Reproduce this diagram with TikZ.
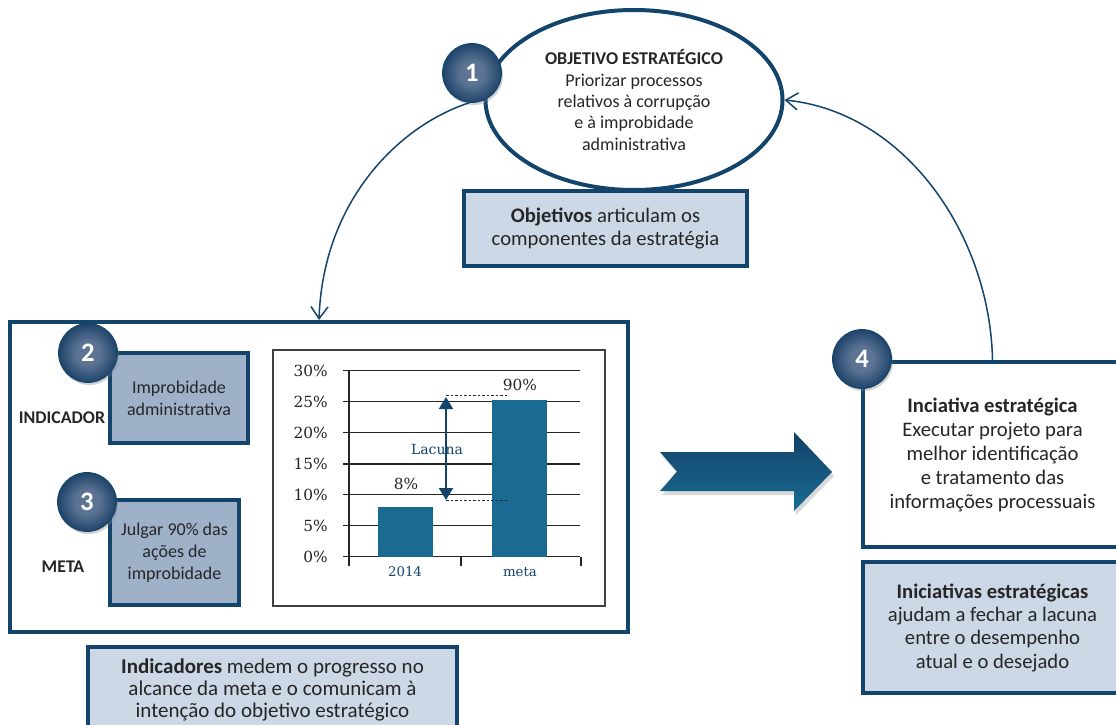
\documentclass[tikz,border=0pt]{standalone}
\usepackage{fontspec}
\setmainfont{Carlito}
\newfontfamily\chartfont{DejaVu Serif}
\usetikzlibrary{shapes.geometric,shadows,arrows.meta}

% one drawing unit = one pixel of the finished picture
\newlength\pxu
\setlength\pxu{0.75pt}

\definecolor{navy}{RGB}{18,68,108}
\definecolor{paleblue}{RGB}{204,216,230}
\definecolor{midblue}{RGB}{158,177,201}
\definecolor{ballin}{RGB}{92,115,147}
\definecolor{ballout}{RGB}{30,68,106}
\definecolor{barblue}{RGB}{26,106,145}
\definecolor{inkgray}{RGB}{38,38,38}
\definecolor{arrowtop}{RGB}{20,64,102}
\definecolor{arrowmid}{RGB}{88,108,140}
\definecolor{arrowbot}{RGB}{24,108,148}

\pgfdeclareradialshading{ball}{\pgfpoint{0bp}{0bp}}{%
  color(0bp)=(ballin); color(10bp)=(ballin); color(25bp)=(ballout); color(50bp)=(ballout)}

\tikzset{
  numball/.style={circle, minimum size=59\pxu, inner sep=0pt, shading=ball,
    draw=navy, line width=0.8\pxu, text=white,
    font=\fontsize{20}{20}\selectfont\bfseries,
    drop shadow={shadow xshift=1.5\pxu, shadow yshift=-2.5\pxu, opacity=0.35}},
  framebox/.style={draw=navy, line width=4\pxu, inner sep=0pt, align=center,
    text=inkgray},
  notebox/.style={framebox, fill=paleblue, font=\fontsize{15.5}{17.5}\selectfont},
  smallbox/.style={framebox, fill=midblue, font=\fontsize{13.5}{16.5}\selectfont},
  whitebox/.style={framebox, fill=white},
  sidelabel/.style={text=inkgray, font=\fontsize{13.4}{15}\selectfont\bfseries},
  chartlabel/.style={text=inkgray, font=\chartfont\fontsize{11.5}{13}\selectfont, inner sep=0pt},
  catlabel/.style={text=navy, font=\chartfont\fontsize{10}{12}\selectfont, inner sep=0pt},
  grid/.style={draw=black!85, line width=1.2\pxu},
  conn/.style={draw=navy, line width=1.5\pxu, -{Straight Barb[length=9pt,width=12.75pt]}},
  gaparrow/.style={draw=navy, line width=1.8\pxu,
    {Triangle[length=9pt,width=10.5pt]}-{Triangle[length=9pt,width=10.5pt]}},
  guide/.style={draw=black!85, line width=1\pxu, dash pattern=on 2.5\pxu off 2\pxu}
}

\begin{document}
\begin{tikzpicture}[x=0.75pt,y=-0.75pt]
\useasboundingbox (0,0) rectangle (1116,724);
\clip (0,0) rectangle (1116,724);

% strategic objective
\node[ellipse, draw=navy, line width=4\pxu, fill=white, minimum width=297\pxu,
  minimum height=180\pxu, inner sep=0pt, align=center, text=inkgray,
  font=\fontsize{13.5}{16}\selectfont] (obj) at (634,100)
  {\textbf{OBJETIVO ESTRATÉGICO}\\Priorizar processos\\relativos à corrupção\\e à improbidade\\administrativa};
\node[notebox, minimum width=283\pxu, minimum height=75\pxu] (objnote) at (605.5,228.5)
  {\textbf{Objetivos} articulam os\\componentes da estratégia};

% indicator and target panel
\node[whitebox, minimum width=618\pxu, minimum height=310\pxu] (panel) at (319,477) {};
\node[smallbox, minimum width=138\pxu, minimum height=90\pxu] (indbox) at (179,398)
  {Improbidade\\administrativa};
\node[smallbox, minimum width=129\pxu, minimum height=105\pxu] (metabox) at (174.5,552.5)
  {Julgar 90\% das\\ações de\\improbidade};
\node[sidelabel] (indlabel) at (62,418) {INDICADOR};
\node[sidelabel] (metalabel) at (63,567) {META};

% bar chart
\node[draw=black!75, line width=1.3\pxu, minimum width=332\pxu, minimum height=256\pxu,
  inner sep=0pt] (chart) at (439,478) {};
\foreach \v/\y in {0/556.5,5/525.5,10/494.5,15/463.5,20/432.5,25/401.5,30/370.5}{
  \draw[grid] (343,\y) -- (580,\y);
  \node[chartlabel, anchor=east] (tick\v) at (328,\y) {\v\%};
}
\draw[grid, line width=2\pxu] (343,463.5) -- (580,463.5);
\draw[grid] (349,370.5) -- (349,566);
\draw[grid] (461,556.5) -- (461,566);
\draw[grid] (581,556.5) -- (581,566);
\fill[barblue] (378,507) rectangle (433,556.5);
\fill[barblue] (492,400) rectangle (547,556.5);
\node[chartlabel] (val2014) at (406,484) {8\%};
\node[chartlabel] (valmeta) at (520,385) {90\%};
\node[catlabel] (cat2014) at (405,572) {2014};
\node[catlabel] (catmeta) at (520,572) {meta};
\coordinate (gaptop) at (446,397);
\coordinate (gapbot) at (446,500);
\coordinate (gaptopend) at (507,395);
\coordinate (gapbotend) at (507,500.5);
\draw[guide] (gaptop |- gaptopend) -- (gaptopend);
\draw[guide] (gapbot |- gapbotend) -- (gapbotend);
\draw[gaparrow] (gaptop) -- (gapbot);
\node[catlabel, font=\chartfont\fontsize{10.5}{12}\selectfont] (lacuna) at (437,449) {Lacuna};

% the note box runs past the lower edge of the page
\node[notebox, minimum width=369\pxu, minimum height=86\pxu,
  font=\fontsize{15.75}{16.2}\selectfont] (indnote) at (272.5,690)
  {\textbf{Indicadores} medem o progresso no\\alcance da meta e o comunicam à\\intenção do objetivo estratégico};

% flow arrow towards the initiative
\path[drop shadow={shadow xshift=2\pxu, shadow yshift=-4\pxu, opacity=0.3},
  top color=arrowtop, middle color=arrowmid, bottom color=arrowbot]
  (660,452) -- (794,452) -- (794,432) -- (832,472) -- (794,511) -- (794,491)
  -- (660,491) -- (677,471.5) -- cycle;

% strategic initiative
\node[whitebox, minimum width=259\pxu, minimum height=185\pxu,
  font=\fontsize{15.5}{18}\selectfont] (init) at (992.5,454.5)
  {\textbf{Inciativa estratégica}\\Executar projeto para\\melhor identificação\\e tratamento das\\informações processuais};
\node[notebox, minimum width=259\pxu, minimum height=131\pxu] (initnote) at (992.5,627.5)
  {\textbf{Iniciativas estratégicas}\\ajudam a fechar a lacuna\\entre o desempenho\\atual e o desejado};

% numbered markers
\node[numball] (n1) at (472,73) {1};
\node[numball] (n2) at (88,353) {2};
\node[numball] (n3) at (87,502) {3};
\node[numball] (n4) at (862,359) {4};

% cycle connectors
\draw[conn] (n1.265) .. controls (400,125) and (323,200) .. (panel.north);
\draw[conn] (init.north) .. controls (990,235) and (905,112) .. (obj.east);
\end{tikzpicture}
\end{document}
